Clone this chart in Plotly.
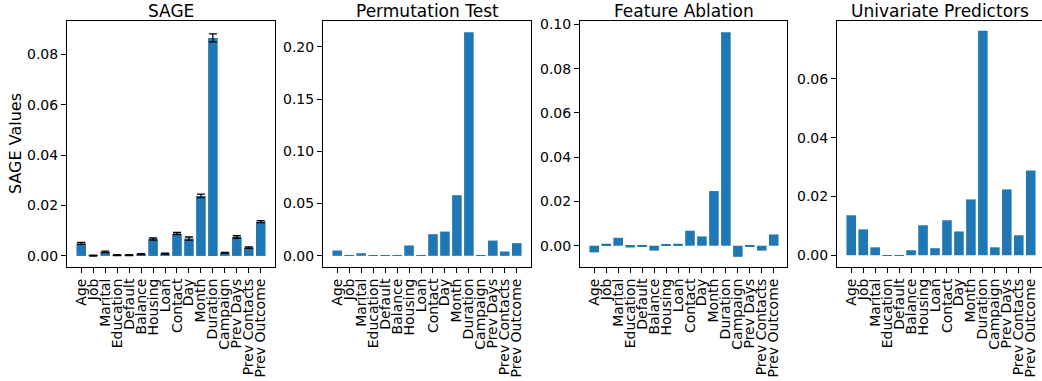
import plotly.graph_objects as go

features = ["Age", "Job", "Marital", "Education", "Default", "Balance", "Housing",
            "Loan", "Contact", "Day", "Month", "Duration", "Campaign", "Prev Days",
            "Prev Contacts", "Prev Outcome"]

sage_values = [0.0050, 0.0001, 0.0016, 0.0003, 0.0003, 0.0007, 0.0067, 0.0009,
               0.0089, 0.0069, 0.0238, 0.0865, 0.0012, 0.0075, 0.0033, 0.0136]
sage_errors = [0.0004, 0.0002, 0.0003, 0.0002, 0.0002, 0.0002, 0.0004, 0.0002,
               0.0004, 0.0006, 0.0007, 0.0016, 0.0002, 0.0005, 0.0003, 0.0004]
permutation_values = [0.0051, 0.0004, 0.0025, 0.0003, 0.0003, 0.0003, 0.0099, 0.0003,
                      0.0207, 0.0232, 0.0580, 0.2140, 0.0003, 0.0146, 0.0041, 0.0121]
ablation_values = [-0.0030, 0.0009, 0.0036, -0.0008, -0.0003, -0.0022, 0.0005, 0.0009,
                   0.0068, 0.0042, 0.0247, 0.0964, -0.0050, -0.0002, -0.0022, 0.0051]
univariate_values = [0.0136, 0.0088, 0.0027, -0.0002, -0.0002, 0.0017, 0.0102, 0.0024,
                     0.0119, 0.0081, 0.0190, 0.0764, 0.0027, 0.0224, 0.0068, 0.0288]

titles = ["SAGE", "Permutation Test", "Feature Ablation", "Univariate Predictors"]
y_label = "SAGE Values"

W, H = 1042, 381
BLUE = "#1f77b4"
FONT = "DejaVu Sans"

# pixel layout of the four panels
panels_px = [(67, 275), (323, 531), (580, 787), (837, 1042)]
top_px, bot_px = 21, 267
y_dom = [(H - bot_px) / H, (H - top_px) / H]

x_lo, x_hi = -1.19, 16.19
unit_px = 208 / (x_hi - x_lo)

y_ranges = [[-0.0044, 0.0932], [-0.0107, 0.2247], [-0.0096, 0.1015], [-0.0040, 0.0797]]
y_dticks = [0.02, 0.05, 0.02, 0.02]

series = [sage_values, permutation_values, ablation_values, univariate_values]

fig = go.Figure()
for i, vals in enumerate(series):
    ax = "" if i == 0 else str(i + 1)
    kw = dict(x=features, y=vals, marker=dict(color=BLUE, line=dict(width=0)),
              xaxis="x" + ax, yaxis="y" + ax, showlegend=False, hoverinfo="x+y")
    if i == 0:
        kw["error_y"] = dict(type="data", array=sage_errors, visible=True,
                             color="black", thickness=1.3, width=4)
    fig.add_trace(go.Bar(**kw))

    l, r = panels_px[i]
    xr = [x_lo, x_lo + (r - l) / unit_px]
    axis_common = dict(showgrid=False, zeroline=False, showline=True, linecolor="black",
                       linewidth=1, ticks="outside", ticklen=5, tickwidth=1,
                       tickcolor="black", automargin=False,
                       tickfont=dict(family=FONT, size=14, color="black"))
    fig.layout["xaxis" + ax] = dict(domain=[l / W, r / W], range=xr, anchor="y" + ax,
                                    tickangle=-90, mirror=True, type="category",
                                    tickmode="array", tickvals=features, ticktext=features,
                                    **axis_common)
    fig.layout["yaxis" + ax] = dict(domain=y_dom, range=y_ranges[i], anchor="x" + ax,
                                    dtick=y_dticks[i], tick0=0, tickformat=".2f",
                                    mirror=(i < 3), **axis_common)
    fig.add_annotation(text=titles[i], xref="x" + ax + " domain", yref="y" + ax + " domain",
                       x=0.5, y=1.0, xanchor="center", yanchor="bottom", yshift=-2,
                       showarrow=False, font=dict(family=FONT, size=17, color="black"))

fig.add_annotation(text=y_label, xref="paper", yref="y domain", x=15 / W, y=0.5,
                   xanchor="center", yanchor="middle", textangle=-90, showarrow=False,
                   font=dict(family=FONT, size=16, color="black"))

fig.update_layout(width=W, height=H, margin=dict(l=0, r=0, t=0, b=0),
                  paper_bgcolor="white", plot_bgcolor="white", bargap=0.2,
                  font=dict(family=FONT, size=14, color="black"))

fig.write_html("out.html", config={"displayModeBar": False},
               post_script="document.body.style.margin='0';"
                           "document.body.style.overflow='hidden';")
